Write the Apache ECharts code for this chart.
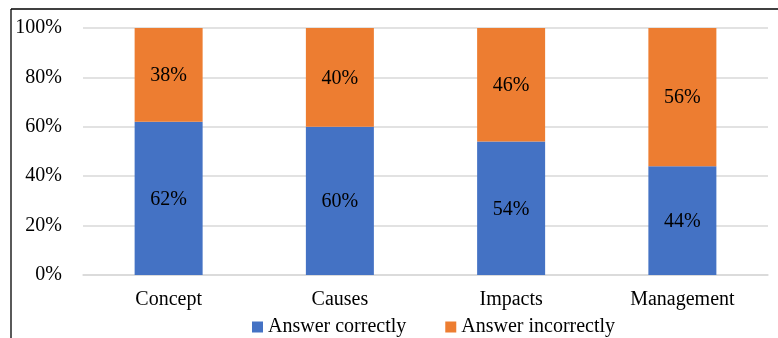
<!DOCTYPE html>
<html>
<head>
<meta charset="utf-8">
<script src="https://cdn.jsdelivr.net/npm/echarts@6/dist/echarts.min.js"></script>
<style>
  html, body { margin: 0; padding: 0; background: #fff; }
  #chart { width: 778px; height: 338px; }
</style>
</head>
<body>
<div id="chart"></div>
<script>
// Share of answers by topic (percent)
const categories = ['Concept', 'Causes', 'Impacts', 'Management'];
const correct = [62, 60, 54, 44];
const incorrect = [38, 40, 46, 56];
const yTicks = [0, 20, 40, 60, 80, 100];

const FONT = '"Liberation Serif", "Times New Roman", serif';
const SIZE = 20;

const chart = echarts.init(document.getElementById('chart'));

const labelStyle = {
  show: true,
  position: 'inside',
  formatter: p => p.value + '%',
  color: '#000',
  fontFamily: FONT,
  fontSize: SIZE,
  offset: [0, 1]
};

chart.setOption({
  animation: false,
  grid: { left: 83, right: 10, top: 28, bottom: 63, containLabel: false },
  graphic: [
    { type: 'line', shape: { x1: 11, y1: 9, x2: 778, y2: 9 }, style: { stroke: '#000', lineWidth: 1.3 } },
    { type: 'line', shape: { x1: 11, y1: 9, x2: 11, y2: 338 }, style: { stroke: '#000', lineWidth: 1.3 } }
  ],
  legend: {
    top: 317,
    left: 252,
    padding: 0,
    itemWidth: 11,
    itemHeight: 11,
    itemGap: 39,
    icon: 'rect',
    textStyle: { fontFamily: FONT, fontSize: SIZE, color: '#000' },
    data: ['Answer correctly', 'Answer incorrectly']
  },
  xAxis: {
    type: 'category',
    data: categories,
    axisLine: { show: true, lineStyle: { color: '#d9d9d9', width: 1.5 } },
    axisTick: { show: false },
    axisLabel: { color: '#000', fontFamily: FONT, fontSize: SIZE, margin: 15 }
  },
  yAxis: {
    type: 'value',
    min: yTicks[0],
    max: yTicks[yTicks.length - 1],
    interval: 20,
    axisLine: { show: false },
    axisTick: { show: false },
    splitLine: { lineStyle: { color: '#d9d9d9', width: 1.5 } },
    axisLabel: { formatter: '{value}%', color: '#000', fontFamily: FONT, fontSize: SIZE, margin: 21 }
  },
  series: [
    {
      name: 'Answer correctly',
      type: 'bar',
      stack: 'total',
      data: correct,
      barWidth: 68,
      itemStyle: { color: '#4472C4' },
      label: labelStyle
    },
    {
      name: 'Answer incorrectly',
      type: 'bar',
      stack: 'total',
      data: incorrect,
      barWidth: 68,
      itemStyle: { color: '#ED7D31' },
      label: labelStyle
    }
  ]
});
</script>
</body>
</html>
